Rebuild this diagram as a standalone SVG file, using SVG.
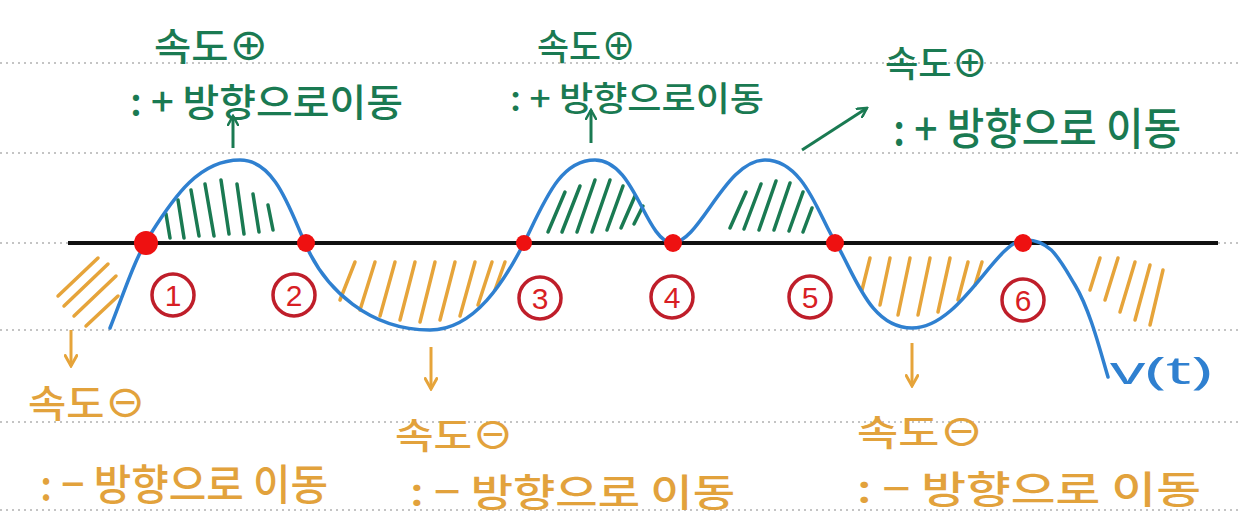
<svg xmlns="http://www.w3.org/2000/svg" width="1239" height="522" viewBox="0 0 1239 522">
<style>
.dot{stroke:#c4c4c4;stroke-width:2;stroke-dasharray:2 4}
.g{fill:#1a7a52;font-family:"Noto Sans CJK KR","Noto Sans",sans-serif;font-weight:500}
.o{fill:#e2a23c;font-family:"Noto Sans CJK KR","Noto Sans",sans-serif;font-weight:500}
.gh{stroke:#1a7a52;stroke-width:3.5;stroke-linecap:round;fill:none}
.oh{stroke:#e6a43a;stroke-width:3.5;stroke-linecap:round;fill:none}
.num{fill:none;stroke:#bf1e2a;stroke-width:3.5}
.nt{fill:#d81e24;font-family:"Liberation Sans",sans-serif;font-size:30px;text-anchor:middle}
.pt{fill:#ee1111}
</style>
<defs>
<marker id="ag" viewBox="0 0 12 12" refX="10" refY="6" markerWidth="12" markerHeight="12" markerUnits="userSpaceOnUse" orient="auto"><path d="M1,1 L10,6 L1,11" fill="none" stroke="#1a7a52" stroke-width="2.5" stroke-linecap="round"/></marker>
<marker id="ao" viewBox="0 0 12 12" refX="10" refY="6" markerWidth="14" markerHeight="14" markerUnits="userSpaceOnUse" orient="auto"><path d="M1,1 L10,6 L1,11" fill="none" stroke="#e6a43a" stroke-width="2.5" stroke-linecap="round"/></marker>
</defs>
<rect width="1239" height="522" fill="#ffffff"/>
<g id="grid">
<line class="dot" x1="0" y1="63" x2="1239" y2="63"/>
<line class="dot" x1="0" y1="153" x2="1239" y2="153"/>
<line class="dot" x1="0" y1="243" x2="1239" y2="243"/>
<line class="dot" x1="0" y1="330" x2="1239" y2="330"/>
<line class="dot" x1="0" y1="422" x2="1239" y2="422"/>
<line class="dot" x1="0" y1="510" x2="1239" y2="510"/>
</g>
<g id="hatching">
<path class="gh" d="M170,238 L166,214 M184,238 L178,200 M199,236 L191,190 M214,236 L205,184 M229,234 L221,180 M244,234 L237,184 M259,232 L253,194 M273,230 L268,205"/>
<path class="gh" d="M548,232 L565,192 M562,232 L580,186 M577,232 L595,180 M592,232 L610,180 M607,230 L623,186 M621,228 L635,196 M634,224 L643,206"/>
<path class="gh" d="M730,228 L746,192 M744,229 L761,184 M759,230 L776,181 M774,230 L790,183 M789,231 L803,192 M803,232 L812,208"/>
<path class="oh" d="M58,296 L98,258 M64,306 L108,264 M74,316 L116,276 M86,326 L118,296"/>
<path class="oh" d="M340,300 L355,262 M360,310 L375,262 M380,316 L395,262 M400,320 L415,262 M420,322 L435,262 M440,320 L455,262 M460,316 L475,262 M478,305 L492,262 M495,290 L505,262"/>
<path class="oh" d="M862,290 L870,258 M880,305 L890,258 M898,315 L910,258 M918,315 L930,258 M938,312 L950,258 M958,300 L968,262 M975,285 L982,262"/>
<path class="oh" d="M1090,290 L1100,258 M1105,300 L1118,258 M1120,312 L1135,262 M1135,320 L1150,265 M1150,325 L1163,270"/>
</g>
<g id="axis">
<line x1="68" y1="243" x2="1218" y2="243" stroke="#111" stroke-width="4"/>
</g>
<g id="curve">
<path d="M110,328 C125,290 135,258 150,235 C175,195 200,160 240,160 C275,160 290,210 305,243 C325,290 370,330 430,330 C475,330 505,280 524,243 C545,200 560,160 595,160 C635,160 645,240 672,243 C700,243 725,160 765,160 C805,160 820,220 836,243 C855,275 870,328 912,328 C960,328 995,243 1023,240 C1050,238 1060,260 1075,285 C1090,310 1100,350 1108,377" fill="none" stroke="#2f80d0" stroke-width="3.5" stroke-linecap="round"/>
<text x="1110" y="384" fill="#2f80d0" font-family="Noto Sans, sans-serif" font-size="38" textLength="102" lengthAdjust="spacingAndGlyphs">v(t)</text>
</g>
<g id="points">
<circle class="pt" cx="146" cy="243" r="12"/>
<circle class="pt" cx="306" cy="243" r="9"/>
<circle class="pt" cx="524" cy="243" r="8"/>
<circle class="pt" cx="673" cy="243" r="9"/>
<circle class="pt" cx="835" cy="243" r="9"/>
<circle class="pt" cx="1023" cy="243" r="9"/>
</g>
<g id="labels">
<circle class="num" cx="173" cy="295" r="21"/><text class="nt" x="173" y="306">1</text>
<circle class="num" cx="294" cy="295" r="21"/><text class="nt" x="294" y="306">2</text>
<circle class="num" cx="540" cy="298" r="21"/><text class="nt" x="540" y="309">3</text>
<circle class="num" cx="672" cy="297" r="21"/><text class="nt" x="672" y="308">4</text>
<circle class="num" cx="810" cy="297" r="21"/><text class="nt" x="810" y="308">5</text>
<circle class="num" cx="1023" cy="300" r="21"/><text class="nt" x="1023" y="311">6</text>
</g>
<g id="connectors">
<line x1="233" y1="148" x2="233" y2="116" stroke="#1a7a52" stroke-width="3" marker-end="url(#ag)"/>
<line x1="591" y1="143" x2="591" y2="110" stroke="#1a7a52" stroke-width="3" marker-end="url(#ag)"/>
<line x1="802" y1="150" x2="867" y2="108" stroke="#1a7a52" stroke-width="3" marker-end="url(#ag)"/>
<line x1="71" y1="330" x2="71" y2="366" stroke="#e6a43a" stroke-width="3" marker-end="url(#ao)"/>
<line x1="431" y1="347" x2="431" y2="389" stroke="#e6a43a" stroke-width="3" marker-end="url(#ao)"/>
<line x1="912" y1="343" x2="912" y2="386" stroke="#e6a43a" stroke-width="3" marker-end="url(#ao)"/>
</g>
<g id="note-pos-1">
<text class="g" x="154" y="60" font-size="38" textLength="115" lengthAdjust="spacingAndGlyphs">속도⊕</text>
<text class="g" x="130" y="116" font-size="38" textLength="273" lengthAdjust="spacingAndGlyphs">: + 방향으로이동</text>
</g>
<g id="note-pos-2">
<text class="g" x="537" y="60" font-size="36" textLength="99" lengthAdjust="spacingAndGlyphs">속도⊕</text>
<text class="g" x="510" y="111" font-size="34" textLength="254" lengthAdjust="spacingAndGlyphs">: + 방향으로이동</text>
</g>
<g id="note-pos-3">
<text class="g" x="885" y="77" font-size="36" textLength="103" lengthAdjust="spacingAndGlyphs">속도⊕</text>
<text class="g" x="893" y="145" font-size="44" textLength="288" lengthAdjust="spacingAndGlyphs">: + 방향으로 이동</text>
</g>
<g id="note-neg-1">
<text class="o" x="28" y="417" font-size="38" textLength="118" lengthAdjust="spacingAndGlyphs">속도⊖</text>
<text class="o" x="40" y="500" font-size="42" textLength="288" lengthAdjust="spacingAndGlyphs">: − 방향으로 이동</text>
</g>
<g id="note-neg-2">
<text class="o" x="395" y="449" font-size="36" textLength="119" lengthAdjust="spacingAndGlyphs">속도⊖</text>
<text class="o" x="410" y="506" font-size="38" textLength="325" lengthAdjust="spacingAndGlyphs">: − 방향으로 이동</text>
</g>
<g id="note-neg-3">
<text class="o" x="857" y="446" font-size="36" textLength="127" lengthAdjust="spacingAndGlyphs">속도⊖</text>
<text class="o" x="857" y="503" font-size="38" textLength="344" lengthAdjust="spacingAndGlyphs">: − 방향으로 이동</text>
</g>
</svg>
